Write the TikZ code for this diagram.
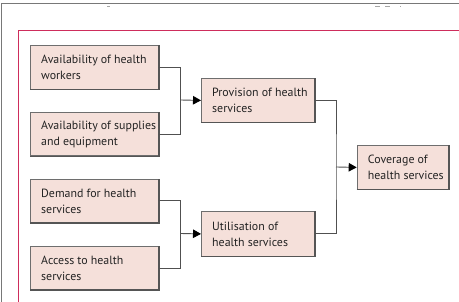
\documentclass[tikz,border=0pt]{standalone}
\usepackage{fontspec}
\setmainfont{PT Sans}
\usetikzlibrary{arrows.meta}
\definecolor{boxfill}{RGB}{245,224,218}
\definecolor{boxline}{RGB}{110,110,110}
\definecolor{boxshade}{RGB}{85,85,85}
\definecolor{conline}{RGB}{80,80,80}
\definecolor{frameline}{RGB}{120,120,120}
\definecolor{redline}{RGB}{206,45,92}
\definecolor{txt}{RGB}{35,35,35}
\tikzset{
  boxst/.style={draw=boxline, line width=0.8pt, fill=boxfill, anchor=north west, inner sep=0pt},
  labst/.style={anchor=west, align=left, inner sep=0pt, text=txt, font=\fontsize{11.9}{16}\selectfont},
  shadest/.style={draw=boxshade, line width=1.4pt},
  conn/.style={draw=conline, line width=0.9pt},
  arr/.style={conn, arrows={-{Triangle[length=8pt,width=8.5pt,color=black]}}},
}
\newcommand\mkbox[6]{%
  \node[boxst, minimum width=#4pt, minimum height=#5pt] (#1) at (#2,#3) {};
  \draw[shadest] (#1.south west) -- (#1.south east) -- (#1.north east);
  \node[labst] (#1t) at ([xshift=11pt]#1.west) {#6};
}
\begin{document}
\begin{tikzpicture}[x=1pt,y=-1pt]
\useasboundingbox (0,0) rectangle (459,302);
% page frames
\draw[frameline, line width=1pt] (459,4) -- (1,4) -- (1,302);
\draw[redline, line width=1pt] (459,30.5) -- (18.5,30.5) -- (18.5,302);
\draw[black!35, line width=0.8pt] (107,6.5) -- (110,6.5);
\draw[black!35, line width=0.8pt] (375,6.5) -- (380,6.5) (385,6.5) -- (390,6.5) (400,6.5) -- (401,6.5);
% boxes
\mkbox{b1}{30}{44.7}{128}{44.3}{Availability of health\\workers}
\mkbox{b2}{30}{112}{128}{43.5}{Availability of supplies\\and equipment}
\mkbox{b3}{30}{178.7}{128}{43.6}{Demand for health\\services}
\mkbox{b4}{30}{246}{128}{43.3}{Access to health\\services}
\mkbox{prov}{201}{78.3}{113}{43.4}{Provision of health\\services}
\mkbox{util}{201}{211.3}{113}{44.4}{Utilisation of\\health services}
\mkbox{cov}{356.7}{145}{91.3}{44}{Coverage of\\health services}
% junctions
\coordinate (j1) at (180.3,100);
\coordinate (j2) at (180.3,233.5);
\coordinate (j3) at (336,167);
% connectors
\draw[conn] (b1.east) -| (j1) |- (b2.east);
\draw[conn] (b3.east) -| (j2) |- (b4.east);
\draw[conn] (prov.east) -| (j3) |- (util.east);
\draw[arr] (j1) -- (prov.west);
\draw[arr] (j2) -- (util.west);
\draw[arr] (j3) -- (cov.west);
\end{tikzpicture}
\end{document}
